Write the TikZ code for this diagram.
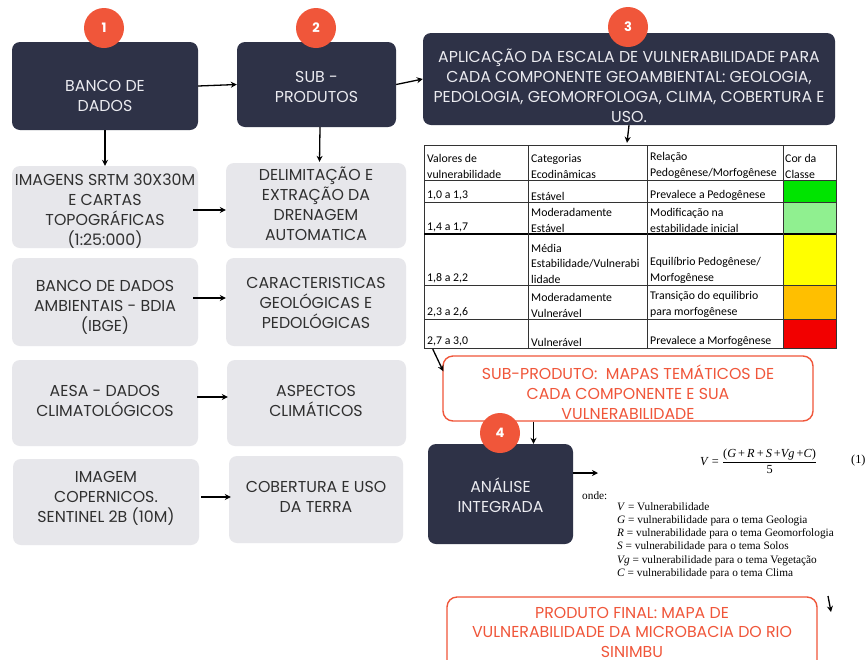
\documentclass[tikz,border=0pt]{standalone}
\usepackage{fontspec}
\usepackage{amsmath}
\setmainfont{Poppins}
\newfontfamily\tabfont{Carlito}
\newfontfamily\serifx{Liberation Serif}
\usetikzlibrary{arrows.meta,calc}
\definecolor{navy}{HTML}{2E3247}
\definecolor{lgray}{HTML}{E7E7EB}
\definecolor{orng}{HTML}{F0563A}
\definecolor{dtext}{HTML}{EBEBF0}
\definecolor{ltext}{HTML}{303030}
\definecolor{cgreen}{HTML}{00E400}
\definecolor{clgreen}{HTML}{90F090}
\definecolor{cyellow}{HTML}{FFFF00}
\definecolor{corange}{HTML}{FFBF00}
\definecolor{cred}{HTML}{F20000}
\newcommand{\mybox}[6]{%
  \node[#2, minimum width={#5-#3}, minimum height={#6-#4}] (#1) at ({(#3+#5)/2},{(#4+#6)/2}) {};}
\begin{document}
\begin{tikzpicture}[x=1pt,y=-1pt,
  darkbox/.style={fill=navy, rounded corners=8pt, inner sep=0pt},
  lightbox/.style={fill=lgray, rounded corners=8pt, inner sep=0pt},
  redbox/.style={draw=orng, line width=1.4pt, fill=white, rounded corners=10pt, inner sep=0pt},
  num/.style={circle, fill=orng, minimum size=40pt, inner sep=0pt, text=white, font=\fontsize{13}{13}\selectfont\bfseries},
  dtxt/.style={text=dtext, align=center, inner sep=0pt, font=\fontsize{15.8}{20}\selectfont},
  ltxt/.style={text=ltext, align=center, inner sep=0pt, font=\fontsize{15.8}{20}\selectfont},
  rtxt/.style={text=orng, align=center, inner sep=0pt, font=\fontsize{15.8}{20}\selectfont},
  arr/.style={-{Stealth[length=6pt,width=6pt]}, line width=1.3pt, black},
  ttxt/.style={anchor=south west, align=left, inner sep=0pt, font=\tabfont\fontsize{11.8}{15.5}\selectfont},
  tgrid/.style={line width=0.7pt, draw=black!80},
  stxt/.style={inner sep=0pt, font=\serifx\fontsize{11.3}{13.3}\selectfont}
]
\clip (0,0) rectangle (866,659);
\fill[white] (0,0) rectangle (866,659);

% top dark boxes
\mybox{b1}{darkbox}{12}{42}{198}{130}
\mybox{b2}{darkbox}{237}{42}{396}{127}
\mybox{b3}{darkbox}{423}{33}{835}{125}
\node[dtxt] (b1t) at (105,96) {BANCO DE\\DADOS};
\node[dtxt] (b2t) at (316.5,87) {SUB -\\PRODUTOS};
\node[dtxt] (b3t) at (629,86) {APLICAÇÃO DA ESCALA DE VULNERABILIDADE PARA\\CADA COMPONENTE GEOAMBIENTAL: GEOLOGIA,\\PEDOLOGIA, GEOMORFOLOGA, CLIMA, COBERTURA E\\USO.};

% left column
\mybox{l1}{lightbox}{12}{166}{198}{248}
\mybox{l2}{lightbox}{12}{258}{198}{346}
\mybox{l3}{lightbox}{12}{360}{198}{446}
\mybox{l4}{lightbox}{13}{459}{199}{545}
\node[ltxt] (l1t) at (105,211) {IMAGENS SRTM 30X30M\\E CARTAS\\TOPOGRÁFICAS\\(1:25:000)};
\node[ltxt] (l2t) at (105,307) {BANCO DE DADOS\\AMBIENTAIS - BDIA\\(IBGE)};
\node[ltxt] (l3t) at (105,401) {AESA - DADOS\\CLIMATOLÓGICOS};
\node[ltxt] (l4t) at (106,498) {IMAGEM\\COPERNICOS.\\SENTINEL 2B (10M)};

% right column
\mybox{r1}{lightbox}{226}{163}{406}{248}
\mybox{r2}{lightbox}{226}{258}{406}{346}
\mybox{r3}{lightbox}{227}{360}{406}{446}
\mybox{r4}{lightbox}{229}{456}{403}{543}
\node[ltxt] (r1t) at (316,204) {DELIMITAÇÃO E\\EXTRAÇÃO DA\\DRENAGEM\\AUTOMATICA};
\node[ltxt] (r2t) at (316,303) {CARACTERISTICAS\\GEOLÓGICAS E\\PEDOLÓGICAS};
\node[ltxt] (r3t) at (316,401) {ASPECTOS\\CLIMÁTICOS};
\node[ltxt] (r4t) at (316,497) {COBERTURA E USO\\DA TERRA};

% table
\node[inner sep=0pt, minimum width=412pt, minimum height=203pt] (tab) at (630,246.5) {};
\fill[cgreen]  (783,180) rectangle (836,202);
\fill[clgreen] (783,202) rectangle (836,234);
\fill[cyellow] (783,234) rectangle (836,285);
\fill[corange] (783,285) rectangle (836,319);
\fill[cred]    (783,319) rectangle (836,348);
\draw[tgrid] (424,145) rectangle (836,348);
\foreach \yy in {180,202,285,319} {\draw[tgrid] (424,\yy) -- (836,\yy);}
\draw[line width=1.2pt, black] (424,234) -- (836,234);
\foreach \xx in {528,647,783} {\draw[tgrid] (\xx,145) -- (\xx,348);}
\node[ttxt] (h1) at (427,178.5) {Valores de\\vulnerabilidade};
\node[ttxt] (h2) at (531,178.5) {Categorias\\Ecodinâmicas};
\node[ttxt] (h3) at (650,178.5) {Relação\\Pedogênese/Morfogênese};
\node[ttxt] (h4) at (785,178.5) {Cor da\\Classe};
\node[ttxt] (a1) at (427,200.5) {1,0 a 1,3};
\node[ttxt] (a2) at (531,200.5) {Estável};
\node[ttxt] (a3) at (650,200.5) {Prevalece a Pedogênese};
\node[ttxt] (c1) at (427,232.5) {1,4 a 1,7};
\node[ttxt] (c2) at (531,232.5) {Moderadamente\\Estável};
\node[ttxt] (c3) at (650,232.5) {Modificação na\\estabilidade inicial};
\node[ttxt] (d1) at (427,283.5) {1,8 a 2,2};
\node[ttxt] (d2) at (531,283.5) {Média\\Estabilidade/Vulnerabi\\lidade};
\node[ttxt] (d3) at (650,283.5) {Equilíbrio Pedogênese/\\Morfogênese};
\node[ttxt] (e1) at (427,317.5) {2,3 a 2,6};
\node[ttxt] (e2) at (531,317.5) {Moderadamente\\Vulnerável};
\node[ttxt] (e3) at (650,317.5) {Transição do equilibrio\\para morfogênese};
\node[ttxt] (f1) at (427,346.5) {2,7 a 3,0};
\node[ttxt] (f2) at (531,346.5) {Vulnerável};
\node[ttxt] (f3) at (650,346.5) {Prevalece a Morfogênese};

% sub-produto box
\mybox{sp}{redbox}{443}{356}{813}{421}
\node[rtxt] (spt) at (628,392) {SUB-PRODUTO:\ \ MAPAS TEMÁTICOS DE\\CADA COMPONENTE E SUA\\VULNERABILIDADE};

% analise
\mybox{an}{darkbox}{428}{444}{573}{544}
\node[dtxt] (ant) at (500.5,495) {ANÁLISE\\INTEGRADA};

% final product
\mybox{fp}{redbox}{447}{597}{817}{675}
\node[rtxt, font=\fontsize{15.8}{19.5}\selectfont] (fpt) at (632,632) {PRODUTO FINAL: MAPA DE\\VULNERABILIDADE DA MICROBACIA DO RIO\\SINIMBU};

% formula and legend
\node[stxt, anchor=west, font=\serifx\fontsize{12.3}{13}\selectfont] (form) at (700,461)
  {\textit{V} = $\dfrac{\text{\serifx\fontsize{12.3}{13}\selectfont(\textit{G}\,+\,\textit{R}\,+\,\textit{S}\,+\textit{Vg}\,+\textit{C})}}{\text{\serifx\fontsize{12.3}{13}\selectfont 5}}$};
\node[stxt, anchor=west, font=\serifx\fontsize{12.3}{13}\selectfont] (eqn) at (851,461) {(1)};
\node[stxt, anchor=west] (onde) at (582,496) {onde:};
\node[stxt, anchor=north west, align=left] (leg) at (617,502)
  {\textit{V} = Vulnerabilidade\\
   \textit{G} = vulnerabilidade para o tema Geologia\\
   \textit{R} = vulnerabilidade para o tema Geomorfologia\\
   \textit{S} = vulnerabilidade para o tema Solos\\
   \textit{Vg} = vulnerabilidade para o tema Vegetação\\
   \textit{C} = vulnerabilidade para o tema Clima};

% number circles
\node[num] (n1) at (104,28) {1};
\node[num] (n2) at (316,28) {2};
\node[num] (n3) at (628,27) {3};
\node[num] (n4) at (500,433) {4};

% connectors
\draw[arr] (b1.east) -- (b2.west);
\draw[arr] (b2.east) -- (b3.west);
\draw[arr] (b1.south) -- (l1.north);
\draw[arr] ([xshift=3.5pt]b2.south) -- ([xshift=3.5pt,yshift=1pt]r1.north);
\draw[arr] (b3.south) -- ([xshift=-3pt,yshift=2pt]tab.north);
\draw[arr] ([xshift=-5pt,yshift=-3pt]l1.east) coordinate (s1) -- (s1 -| r1.west);
\draw[arr] ([xshift=-5pt,yshift=4pt]l2.east) coordinate (s2) -- (s2 -| r2.west);
\draw[arr] ([xshift=-1pt,yshift=6pt]l3.east) coordinate (s3) -- ([xshift=1pt]s3 -| r3.west);
\draw[arr] ([xshift=2pt,yshift=5pt]l4.east) coordinate (s4) -- ([xshift=2pt]s4 -| r4.west);
\draw[arr] ([xshift=9pt,yshift=-1pt]tab.south west) -- ([xshift=1pt,yshift=-16pt]sp.north west);
\coordinate (e4) at ([xshift=33pt]an.north);
\draw[arr] (sp.south -| e4) -- (e4);
\coordinate (fx) at (598,473);
\draw[arr] (an.east |- fx) -- (fx);
\coordinate (fa1) at (828,596);
\coordinate (fa2) at (831,612);
\draw[arr] (fa1) -- (fa2);
\end{tikzpicture}
\end{document}
